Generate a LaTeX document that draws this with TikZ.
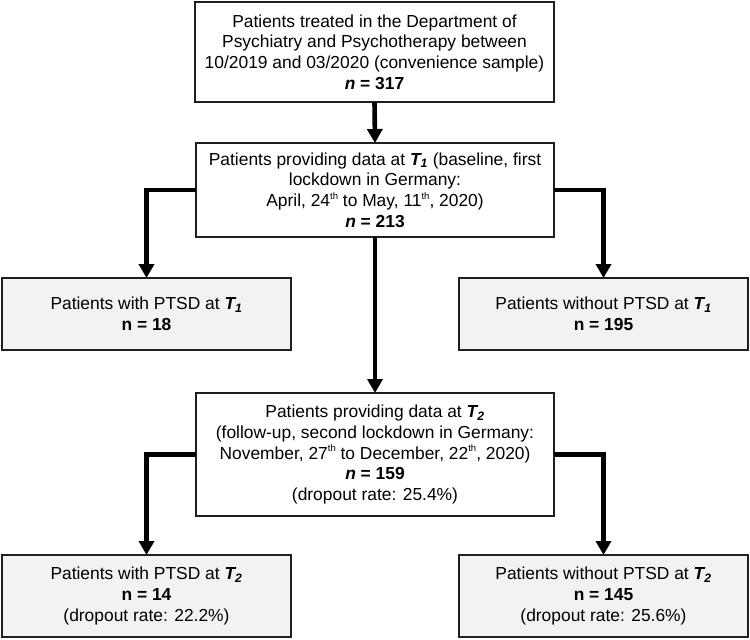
\documentclass[tikz,border=0pt]{standalone}
\usepackage{fontspec}
\setmainfont{Liberation Sans}
\usetikzlibrary{arrows.meta}
\newcommand{\thsup}{\raisebox{0.42em}{\fontsize{9.5}{9.5}\selectfont th}}
\newcommand{\Tsub}[1]{\textbf{\textit{T\textsubscript{#1}}}}
\begin{document}
\begin{tikzpicture}[x=1pt,y=-1pt,
  every node/.style={font=\fontsize{17.4}{20.7}\selectfont},
  flowbox/.style={draw=black!88, line width=1.8pt, fill=white, align=center,
    inner sep=0pt, outer sep=0pt, minimum width=#1},
  flowbox/.default=358pt,
  greybox/.style={flowbox=289pt, fill=black!5},
  flowarrow/.style={line width=4.6pt, black,
    -{Triangle[width=15pt,length=14pt]}}]
\useasboundingbox (0,0) rectangle (750,640);

% main stream
\node[flowbox=359pt, minimum height=100pt] (start) at (374.5,52)
  {Patients treated in the Department of\\
   Psychiatry and Psychotherapy between\\
   10/2019 and 03/2020 (convenience sample)\\
   \textbf{\textit{n} = 317}};
\node[flowbox, minimum height=94pt] (tone) at (375,190)
  {Patients providing data at \Tsub{1} (baseline, first\\
   lockdown in Germany:\\
   April, 24\thsup{} to May, 11\thsup, 2020)\\
   \textbf{\textit{n} = 213}};
\node[flowbox, minimum height=123pt] (ttwo) at (375,454.5)
  {Patients providing data at \Tsub{2}\\
   (follow-up, second lockdown in Germany:\\
   November, 27\thsup{} to December, 22\thsup, 2020)\\
   \textbf{\textit{n} = 159}\\
   (dropout rate: 25.4\%)};

% PTSD split at T1
\node[greybox, minimum height=72pt] (ptsdone) at (146.5,314)
  {Patients with PTSD at \Tsub{1}\\ \textbf{n = 18}};
\node[greybox, minimum height=72pt] (noptsdone) at (603.5,314)
  {Patients without PTSD at \Tsub{1}\\ \textbf{n = 195}};

% PTSD split at T2
\node[greybox, minimum height=82pt] (ptsdtwo) at (146.5,596)
  {Patients with PTSD at \Tsub{2}\\ \textbf{n = 14}\\ (dropout rate: 22.2\%)};
\node[greybox, minimum height=82pt] (noptsdtwo) at (603.5,596)
  {Patients without PTSD at \Tsub{2}\\ \textbf{n = 145}\\ (dropout rate: 25.6\%)};

% connectors
\draw[flowarrow] (start.south) -- (tone.north);
\draw[flowarrow] (tone.south) -- (ttwo.north);
\draw[flowarrow] (tone.west) -| (ptsdone.north);
\draw[flowarrow] (tone.east) -| (noptsdone.north);
\draw[flowarrow] (ttwo.west) -| (ptsdtwo.north);
\draw[flowarrow] (ttwo.east) -| (noptsdtwo.north);
\end{tikzpicture}
\end{document}
